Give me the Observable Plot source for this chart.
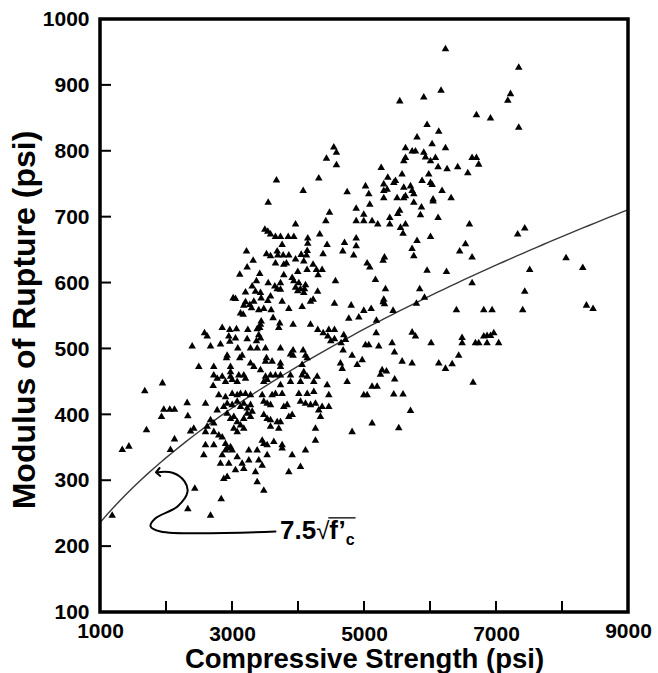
<!DOCTYPE html>
<html>
<head>
<meta charset="utf-8">
<script src="https://cdn.jsdelivr.net/npm/d3@7"></script>
<script src="https://cdn.jsdelivr.net/npm/@observablehq/plot@0.6"></script>
<style>
  html, body { margin: 0; padding: 0; background: white; }
</style>
</head>
<body>
<div id="chart"></div>
<script>
const specimens = [
  [1671,436],[1939,448],[1959,408],[2050,408],[2121,408],[1924,397],[2313,418],[2323,398],[1697,377],[2121,363],[2060,347],[1330,347],[1430,352],[2364,375],[2413,379],[2429,288],[2323,257],[1177,247],[2667,247],[2829,272],
  [3541,722],[4470,707],[4874,713],[3955,689],[4414,694],[4874,694],[3490,681],[3535,678],[3576,674],[3651,670],[3727,670],[3844,670],[3929,670],[4140,668],[4140,660],[4322,674],[3752,658],[4433,658],[4697,661],[4874,668],[4874,656],[3212,648],[3515,644],[3576,641],[3677,648],[3686,642],[3768,642],[3853,642],[4041,643],[4121,642],[4132,649],[4372,644],[4671,648],[4836,642],[3313,634],[3651,630],[3777,628],[3818,630],[3955,636],[4080,633],[4221,628],[3222,624],[3110,613],[3413,614],[3777,612],[3904,608],[3989,617],[4130,620],[4272,620],[4358,620],[4297,612],[3363,603],[3541,600],[3641,595],[3727,600],[3677,591],[3727,590],[3929,603],[4005,600],[3955,593],[4030,591],[4106,597],[4091,591],[4560,603],[3197,586],[3298,595],[3348,587],[3424,585],[3989,588],[4080,585],[4290,587],[3045,576],[3010,577],[3197,571],[3323,572],[3434,577],[3535,573],[3576,580],[3752,572],[4182,572],[4222,575],[4545,569],[4798,566],[3171,566],[3262,567],[3474,561],[3288,562],[3585,559],[3853,561],[4055,564],[3398,559],[3121,554],[3162,552],[3615,547],[3435,542],[3424,537],[3413,532],[3716,539],[3701,532],[3918,537],[4182,537],[4762,546],[4914,548],[2844,532],[2959,529],[3060,530],[3232,529],[3374,530],[4292,529],[4374,524],[4459,529],[4545,529],[2576,524],[2616,519],[2389,504],[2667,504],[2818,507],[2944,519],[2959,511],[3045,516],[3222,515],[3398,521],[3363,512],[3424,516],[3080,501],[3273,501],[3374,501],[3500,501],[3727,501],[3918,498],[4070,498],[3879,492],[4444,519],[4489,512],[4545,515],[4686,521],[4712,514],[4645,509],[4676,498],[4812,490],[2919,490],[3146,490],[3110,486],[2909,486],[3515,486],[3500,481],[3918,490],[4106,490],[4132,486],[2489,473],[2716,473],[2970,473],[2970,465],[3323,473],[3273,478],[3424,468],[3600,481],[3727,478],[3727,473],[4055,476],[4080,465],[4636,478],[4662,470],[4889,476],[2716,460],[2768,455],[2844,458],[2970,458],[3095,460],[3171,460],[3197,455],[3500,458],[3576,460],[3651,460],[3727,460],[3879,460],[4055,460],[4132,458],[4283,458],
  [2707,444],[2894,450],[2995,453],[3071,450],[3474,450],[3525,453],[3727,445],[3879,450],[4030,450],[4232,450],[4434,445],[4737,450],[2591,417],[2792,430],[2894,427],[2995,432],[3071,430],[3121,432],[3197,432],[3273,430],[3450,430],[3600,430],[3651,432],[3752,432],[4005,432],[4132,432],[4232,435],[4459,430],[4989,430],[5040,430],[5115,443],[5191,443],[2768,407],[2868,412],[2919,417],[2995,415],[3071,420],[3121,412],[3171,417],[3222,410],[3273,415],[3298,405],[3474,420],[3525,417],[3576,415],[3777,412],[3828,415],[4030,420],[4106,417],[4182,415],[4257,417],[4307,407],[4358,412],[4459,412],[2667,392],[2717,387],[2616,382],[2919,402],[2970,394],[3020,397],[3071,389],[3171,394],[3222,402],[3273,397],[3474,400],[3525,394],[3576,392],[3677,389],[3727,389],[3853,397],[3904,400],[4333,397],[2591,374],[2717,374],[2792,369],[2844,366],[3020,379],[3071,374],[3121,384],[3171,379],[3576,382],[3701,379],[4257,379],[4812,374],[5115,387],[2591,354],[2717,354],[2894,356],[2919,349],[2970,351],[3450,361],[3474,356],[3525,354],[3626,359],[3752,354],[3752,349],[4257,361],[2565,339],[2844,339],[2894,346],[2995,346],[3247,346],[3374,346],[3525,339],[3904,339],[4106,346],[2818,326],[2944,326],[3071,336],[3146,326],[3247,331],[3398,331],[3450,323],[3853,313],[4030,321],[2868,303],[2919,306],[3045,316],[3171,318],[3348,313],[3374,298],[3474,285],
  [6227,955],[7337,927],[6160,892],[5534,876],[5898,882],[7212,887],[7171,877],[6696,855],[6909,850],[7337,836],[5948,840],[6125,830],[5796,821],[5621,805],[5722,800],[5772,800],[6024,811],[6227,805],[5898,798],[5924,791],[6000,785],[6075,790],[5595,785],[5621,790],[6630,790],[6696,790],[6730,780],[5253,775],[6115,776],[6251,773],[6412,776],[6565,767],[5569,765],[5973,765],[5353,760],[5444,752],[5469,755],[5872,755],[6000,752],[6025,749],[5015,747],[5292,750],[5292,740],[5343,742],[5595,745],[5697,747],[5722,740],[5747,735],[6175,740],[5065,735],[5292,729],[5494,729],[5595,729],[5621,732],[6039,727],[6312,729],
  [5080,719],[5747,722],[5863,715],[6039,724],[5533,710],[5504,705],[5848,703],[4989,704],[4989,694],[5115,694],[5201,689],[5383,699],[5383,689],[5621,689],[5545,684],[6115,699],[6590,689],[7321,674],[7428,683],[5584,675],[5796,664],[6000,670],[6530,659],[5721,652],[6442,648],[5747,641],[6630,639],[5040,630],[5080,624],[5303,639],[5282,634],[5948,619],[6242,617],[7503,620],[5166,605],[6630,600],[5318,591],[5836,591],[7428,587],[5292,575],[5303,568],[5282,571],[5787,569],[5909,578],[4989,558],[5101,561],[5433,558],[6393,559],[6807,559],[6933,559],[7397,559],[5181,543],[5177,524],[5722,525],[5772,519],[6478,517],[6807,519],[6857,520],[6909,520],[6959,524],[6681,509],[6731,509],[6857,509],[7033,509],[6479,509],[5015,506],[5065,506],[5216,504],[5418,509],[6009,509],[5454,495],[6427,490],[4965,483],[5570,481],[5721,478],[6125,478],[6328,477],[5267,468],[5333,466],[6227,470],
  [4535,806],[4575,798],[4424,789],[4575,779],[3666,756],[4307,759],[4071,740],[4737,738],
  [8054,638],[8307,623],[8363,566],[8463,561],
  [5242,461],[6645,449],[5457,454],[5443,431],[5584,431],[5697,406],[5519,380]
];

const xDomain = [1000, 9000];
const yDomain = [100, 1000];
const xTicks = [1000, 2000, 3000, 4000, 5000, 6000, 7000, 8000, 9000];
const xTickLabelsEdge = [1000, 9000];
const xTickLabelsInner = [3000, 5000, 7000];
const yTicks = [100, 200, 300, 400, 500, 600, 700, 800, 900, 1000];
const codeCoefficient = 7.5;
const curveX = d3.range(1000, 9001, 100);
const arrowPath = [[3651,223],[1909,223],[1758,231],[1833,243],[2167,261],[2318,283],[2273,299],[2091,312],[1870,313]];
const annotationAt = [3727, 211];

const font = "'Liberation Sans', Arial, Helvetica, sans-serif";

const chart = Plot.plot({
  width: 658,
  height: 673,
  marginLeft: 100,
  marginRight: 30,
  marginTop: 19,
  marginBottom: 61,
  x: {domain: xDomain, axis: null},
  y: {domain: yDomain, axis: null},
  style: {fontFamily: font, background: "white", color: "black"},
  marks: [
    Plot.line(curveX, {x: d => d, y: d => codeCoefficient * Math.sqrt(d), stroke: "#3a3a3a", strokeWidth: 1.4}),
    Plot.dot(specimens, {x: d => d[0], y: d => d[1], symbol: "triangle", r: 2.8, fill: "black", stroke: "none"}),
    Plot.text(yTicks, {x: xDomain[0], y: d => d, text: d => String(d), textAnchor: "end", dx: -11, fontSize: 21, fontWeight: "bold"}),
    Plot.text(xTickLabelsEdge, {x: d => d, y: yDomain[0], text: d => String(d), dy: 19, fontSize: 21, fontWeight: "bold"}),
    Plot.text(xTickLabelsInner, {x: d => d, y: yDomain[0], text: d => String(d), dy: 22, fontSize: 21, fontWeight: "bold"}),
    Plot.text(["Compressive Strength (psi)"], {frameAnchor: "bottom", lineAnchor: "middle", textAnchor: "middle", dy: 47, fontSize: 27.5, fontWeight: "bold"}),
    Plot.text(["Modulus of Rupture (psi)"], {frameAnchor: "left", lineAnchor: "middle", textAnchor: "middle", dx: -76, dy: 4, rotate: -90, fontSize: 32, fontWeight: "bold"}),
    Plot.line(arrowPath, {x: d => d[0], y: d => d[1], curve: "catmull-rom", stroke: "black", strokeWidth: 2, markerEnd: "arrow"})
  ]
});

document.getElementById("chart").append(chart);

const sx = chart.scale("x"), sy = chart.scale("y");
const svg = d3.select(chart);

// frame and inward ticks, placed through the plot's own scales
const fx0 = sx.apply(xDomain[0]), fx1 = sx.apply(xDomain[1]);
const fy0 = sy.apply(yDomain[0]), fy1 = sy.apply(yDomain[1]);
const deco = svg.append("g").attr("class", "deco");
deco.selectAll("line.yt").data(yTicks).join("line").attr("class", "yt")
  .attr("x1", fx0).attr("x2", fx0 + 11)
  .attr("y1", d => sy.apply(d)).attr("y2", d => sy.apply(d))
  .attr("stroke", "black").attr("stroke-width", 2);
deco.selectAll("line.xt").data(xTicks).join("line").attr("class", "xt")
  .attr("x1", d => sx.apply(d)).attr("x2", d => sx.apply(d))
  .attr("y1", fy0).attr("y2", fy0 - 11)
  .attr("stroke", "black").attr("stroke-width", 2);
deco.append("rect")
  .attr("x", fx0).attr("y", fy1).attr("width", fx1 - fx0).attr("height", fy0 - fy1)
  .attr("fill", "none").attr("stroke", "black").attr("stroke-width", 3.5);

// formula label 7.5√f'c
const ax = sx.apply(annotationAt[0]), ay = sy.apply(annotationAt[1]);
const t = svg.append("text")
  .attr("x", ax).attr("y", ay).attr("text-anchor", "start")
  .attr("font-family", font).attr("font-size", 26).attr("font-weight", "bold").attr("fill", "black");
t.append("tspan").text("7.5");
t.append("tspan").attr("font-weight", "normal").attr("font-size", 24).text("√");
t.append("tspan").text("f’");
t.append("tspan").attr("font-size", 16).attr("dy", 6).text("c");
const node = t.node();
const full = node.getComputedTextLength();
const before = node.getSubStringLength(0, 4);
svg.append("line")
  .attr("x1", ax + before - 1).attr("x2", ax + full + 1)
  .attr("y1", ay - 21).attr("y2", ay - 21)
  .attr("stroke", "black").attr("stroke-width", 1.3);
</script>
</body>
</html>
